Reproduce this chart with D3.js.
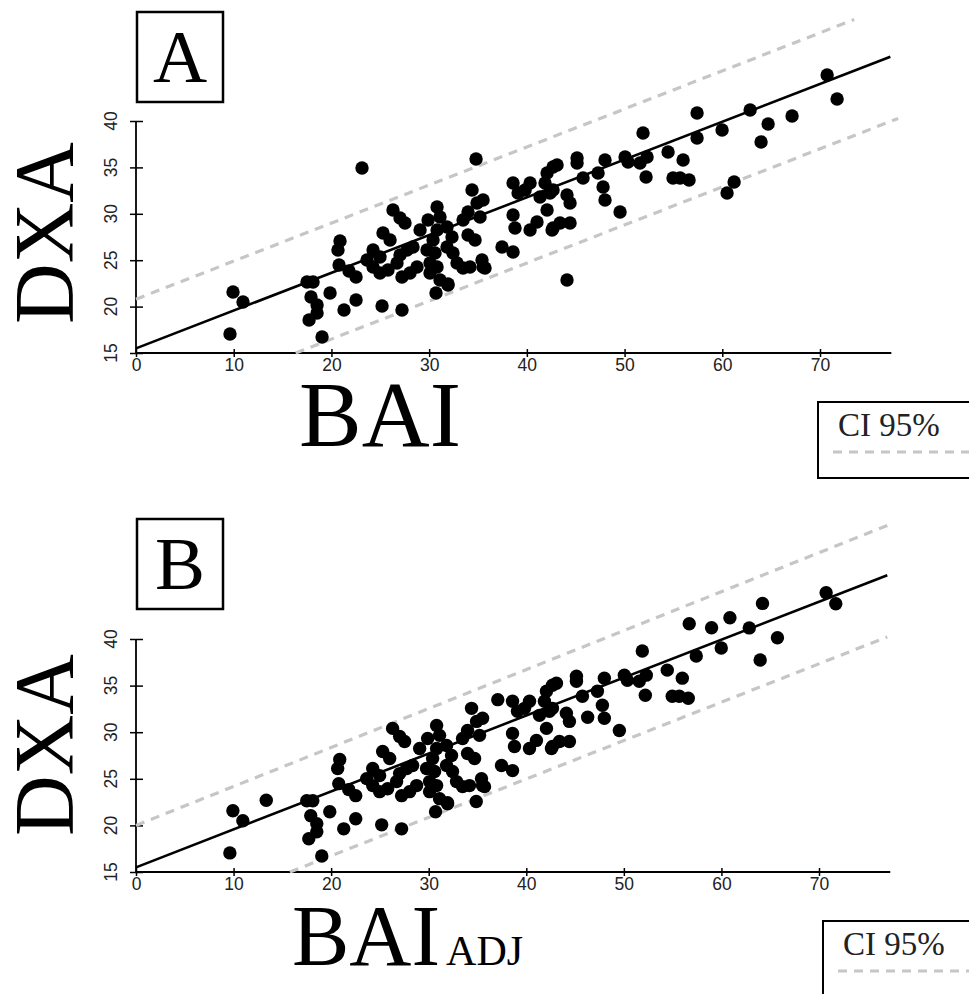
<!DOCTYPE html>
<html><head><meta charset="utf-8">
<script src="https://cdn.jsdelivr.net/npm/d3@7"></script>
<style>body{margin:0;background:#fff;} svg{display:block;}</style>
</head><body>
<svg id="c" width="969" height="994"></svg>
<script>
// ---- data ----
const xTicks = [0,10,20,30,40,50,60,70];
const yTicks = [15,20,25,30,35,40];

const baiA = [9.93,10.95,9.62,19.04,23.13,34.80,17.50,18.12,17.91,18.53,17.71,18.53,19.86,21.29,22.52,25.18,27.22,20.88,20.67,20.78,21.80,22.52,30.70,31.93,26.30,27.02,27.53,25.28,26.00,24.26,24.97,23.64,24.26,24.97,25.79,26.71,27.02,27.74,28.35,27.22,28.04,28.76,29.07,29.89,30.81,31.11,30.81,31.83,32.34,30.40,29.78,30.60,31.83,32.44,30.09,30.81,32.85,33.47,34.18,35.41,35.72,30.09,31.11,31.93,34.39,35.52,34.90,33.98,33.47,33.98,34.70,37.46,38.59,38.59,39.10,40.33,41.35,42.07,42.68,42.68,42.07,38.59,38.79,40.33,41.04,42.68,43.09,45.14,45.14,45.75,48.00,47.29,47.80,48.00,49.54,50.05,50.36,51.58,52.30,51.89,52.20,54.45,55.99,54.96,55.68,56.60,57.42,57.42,59.98,61.21,60.49,62.85,63.97,64.69,67.14,71.75,70.73,44.11,44.42,42.37,44.11,44.42,43.40,42.58,35.52,35.21,39.82,41.86];
const dxaA = [21.57,20.50,17.05,16.72,34.94,35.91,22.65,22.65,21.03,20.17,18.56,19.31,21.47,19.63,20.71,20.06,19.63,27.07,26.10,24.48,23.84,23.19,21.47,22.44,30.41,29.55,29.01,27.93,27.18,26.10,25.34,25.02,24.27,23.62,23.94,24.70,25.56,26.10,26.42,23.19,23.62,24.27,28.25,29.33,30.73,29.66,28.25,28.58,27.50,27.18,26.10,25.78,26.42,25.78,24.70,24.27,24.70,24.16,24.27,25.02,24.16,23.62,22.87,22.33,32.56,31.49,31.16,30.19,29.33,27.72,27.18,26.42,25.88,33.32,32.24,33.32,31.81,34.40,35.04,32.56,30.41,29.87,28.47,28.25,29.12,28.47,35.26,36.01,35.47,33.86,35.80,34.40,32.89,31.49,30.19,36.12,35.58,35.47,36.12,38.71,33.97,36.66,35.80,33.86,33.86,33.64,40.86,38.17,39.03,33.43,32.24,41.19,37.74,39.68,40.54,42.37,44.96,32.03,31.16,32.24,22.87,29.01,29.01,28.25,24.27,29.66,32.56,33.32];

const baiB = [9.93,10.95,9.62,19.04,17.50,18.12,17.91,18.53,17.71,18.53,19.86,21.29,22.52,25.18,27.22,20.88,20.67,20.78,21.80,22.52,30.70,31.93,26.30,27.02,27.53,25.28,26.00,24.26,24.97,23.64,24.26,24.97,25.79,26.71,27.02,27.74,28.35,27.22,28.04,28.76,29.07,29.89,30.81,31.11,30.81,31.83,32.34,30.40,29.78,30.60,31.83,32.44,30.09,30.81,32.85,33.47,34.18,35.41,35.72,30.09,31.11,31.93,34.39,35.52,34.90,33.98,33.47,33.98,34.70,37.46,38.59,38.59,39.10,40.33,41.35,42.07,42.68,42.68,42.07,38.59,38.79,40.33,41.04,42.68,43.09,45.14,45.14,45.75,48.00,47.29,47.80,48.00,49.54,50.05,50.36,51.58,52.30,51.89,52.20,54.45,55.99,54.96,55.68,56.60,57.42,59.98,62.85,63.97,70.73,44.11,44.42,42.37,44.42,43.40,42.58,35.52,35.21,39.82,41.86,13.35,37.08,34.87,46.29,56.70,58.99,60.87,64.21,65.74,71.72];
const dxaB = [21.57,20.50,17.05,16.72,22.65,22.65,21.03,20.17,18.56,19.31,21.47,19.63,20.71,20.06,19.63,27.07,26.10,24.48,23.84,23.19,21.47,22.44,30.41,29.55,29.01,27.93,27.18,26.10,25.34,25.02,24.27,23.62,23.94,24.70,25.56,26.10,26.42,23.19,23.62,24.27,28.25,29.33,30.73,29.66,28.25,28.58,27.50,27.18,26.10,25.78,26.42,25.78,24.70,24.27,24.70,24.16,24.27,25.02,24.16,23.62,22.87,22.33,32.56,31.49,31.16,30.19,29.33,27.72,27.18,26.42,25.88,33.32,32.24,33.32,31.81,34.40,35.04,32.56,30.41,29.87,28.47,28.25,29.12,28.47,35.26,36.01,35.47,33.86,35.80,34.40,32.89,31.49,30.19,36.12,35.58,35.47,36.12,38.71,33.97,36.66,35.80,33.86,33.86,33.64,38.17,39.03,41.19,37.74,44.96,32.03,31.16,32.24,29.01,29.01,28.25,24.27,29.66,32.56,33.32,22.70,33.49,22.56,31.61,41.63,41.20,42.28,43.82,40.13,43.78];

// [intercept, slope, fromBAI, toBAI]
const fitA   = [15.5, 0.407, 0, 77.2];
const upperA = [20.8, 0.410, 0, 73.5];
const lowerA = [8.3,  0.410, null, 78.0];
const fitB   = [15.5, 0.407, 0, 77.0];
const upperB = [20.0, 0.418, 0, 77.0];
const lowerB = [8.5,  0.412, null, 77.0];

const panelLetters = ["A","B"];
const legendText = "CI 95%";

// ---- drawing ----
const svg = d3.select("#c");
const SERIF = "'Liberation Serif','Times New Roman',serif";
const SANS = "'Liberation Sans',Arial,sans-serif";

function drawPanel(cfg){
  const g = svg.append("g");
  const x = d3.scaleLinear().domain([0,70]).range([136, cfg.x70]);
  const y = d3.scaleLinear().domain([15,40]).range([cfg.y15, cfg.y40]);
  const line = d3.line().x(d=>x(d[0])).y(d=>y(d[1]));
  const seg = p => {
    const x0 = p[2]===null ? (15 - p[0]) / p[1] : p[2];
    return [[x0, p[0]+p[1]*x0],[p[3], p[0]+p[1]*p[3]]];
  };

  // axes
  const xAxis = g.append("g").attr("transform",`translate(0,${cfg.y15})`)
    .call(d3.axisBottom(x).tickValues(xTicks).tickSize(4).tickFormat(d3.format("d")));
  xAxis.select(".domain").remove();
  xAxis.selectAll(".tick line").attr("y1",-4).attr("y2",4).attr("stroke","#000").attr("stroke-width",1.5);
  xAxis.selectAll(".tick text").attr("y",6).attr("dy","0.71em")
     .style("font-family",SANS).style("font-size","17.5px").attr("fill","#222");
  g.append("line").attr("x1",x(0)).attr("x2",x(77.3)).attr("y1",cfg.y15).attr("y2",cfg.y15)
     .attr("stroke","#000").attr("stroke-width",1.8);

  const yAxis = g.append("g").attr("transform",`translate(${x(0)},0)`)
    .call(d3.axisLeft(y).tickValues(yTicks).tickSize(6).tickFormat(""));
  yAxis.select(".domain").remove();
  yAxis.selectAll(".tick line").attr("x1",-6).attr("x2",7).attr("stroke","#000").attr("stroke-width",1.5);
  g.append("line").attr("x1",x(0)).attr("x2",x(0)).attr("y1",y(15)).attr("y2",y(40))
     .attr("stroke","#000").attr("stroke-width",1.8);
  g.selectAll(".ylab").data(yTicks).join("text")
     .attr("transform",d=>`translate(117,${y(d)}) rotate(-90)`)
     .attr("text-anchor","middle")
     .style("font-family",SANS).style("font-size","17.5px").attr("fill","#222")
     .text(d=>d);

  // CI dashed lines
  [cfg.upper, cfg.lower].forEach(p=>{
    g.append("path").attr("d",line(seg(p))).attr("fill","none")
     .attr("stroke","#c6c6c6").attr("stroke-width",3.2).attr("stroke-dasharray","9,7");
  });
  // points
  g.selectAll("circle").data(cfg.bai.map((b,i)=>[b,cfg.dxa[i]])).join("circle")
     .attr("cx",d=>x(d[0])).attr("cy",d=>y(d[1])).attr("r",6.7).attr("fill","#000");
  // regression line
  g.append("path").attr("d",line(seg(cfg.fit))).attr("fill","none")
     .attr("stroke","#000").attr("stroke-width",2.6);

  // panel letter box
  g.append("rect").attr("x",137).attr("y",cfg.boxY).attr("width",86).attr("height",90)
     .attr("fill","#fff").attr("stroke","#000").attr("stroke-width",2.5);
  g.append("text").attr("x",180).attr("y",cfg.boxY+70).attr("text-anchor","middle")
     .style("font-family",SERIF).style("font-size","75px").text(cfg.letter);

  // y title
  g.append("text").attr("transform",`translate(73,${cfg.yTitleC}) rotate(-90)`)
     .attr("text-anchor","middle").style("font-family",SERIF).style("font-size","84px")
     .text("DXA");

  // legend
  g.append("rect").attr("x",cfg.legX).attr("y",cfg.legY).attr("width",200).attr("height",cfg.legH)
     .attr("fill","#fff").attr("stroke","#000").attr("stroke-width",2);
  g.append("text").attr("x",cfg.legX+20).attr("y",cfg.legY+34)
     .style("font-family",SERIF).style("font-size","33px").attr("fill","#222").text(legendText);
  g.append("line").attr("x1",cfg.legX+15).attr("x2",969).attr("y1",cfg.legY+50).attr("y2",cfg.legY+50)
     .attr("stroke","#c6c6c6").attr("stroke-width",3.2).attr("stroke-dasharray","9,7");
  return g;
}

const gA = drawPanel({x70:820, y15:353, y40:121, bai:baiA, dxa:dxaA, fit:fitA, upper:upperA, lower:lowerA,
  boxY:12, letter:panelLetters[0], yTitleC:233, legX:818, legY:402, legH:76});
gA.append("text").attr("x",380).attr("y",446).attr("text-anchor","middle")
  .style("font-family",SERIF).style("font-size","94px").text("BAI");

const gB = drawPanel({x70:819, y15:872, y40:639, bai:baiB, dxa:dxaB, fit:fitB, upper:upperB, lower:lowerB,
  boxY:519, letter:panelLetters[1], yTitleC:745, legX:823, legY:921, legH:120});
const tB = gB.append("text").attr("x",292).attr("y",965).style("font-family",SERIF);
tB.append("tspan").style("font-size","86px").text("BAI");
tB.append("tspan").attr("dx",6).style("font-size","42px").text("ADJ");
</script>
</body></html>
